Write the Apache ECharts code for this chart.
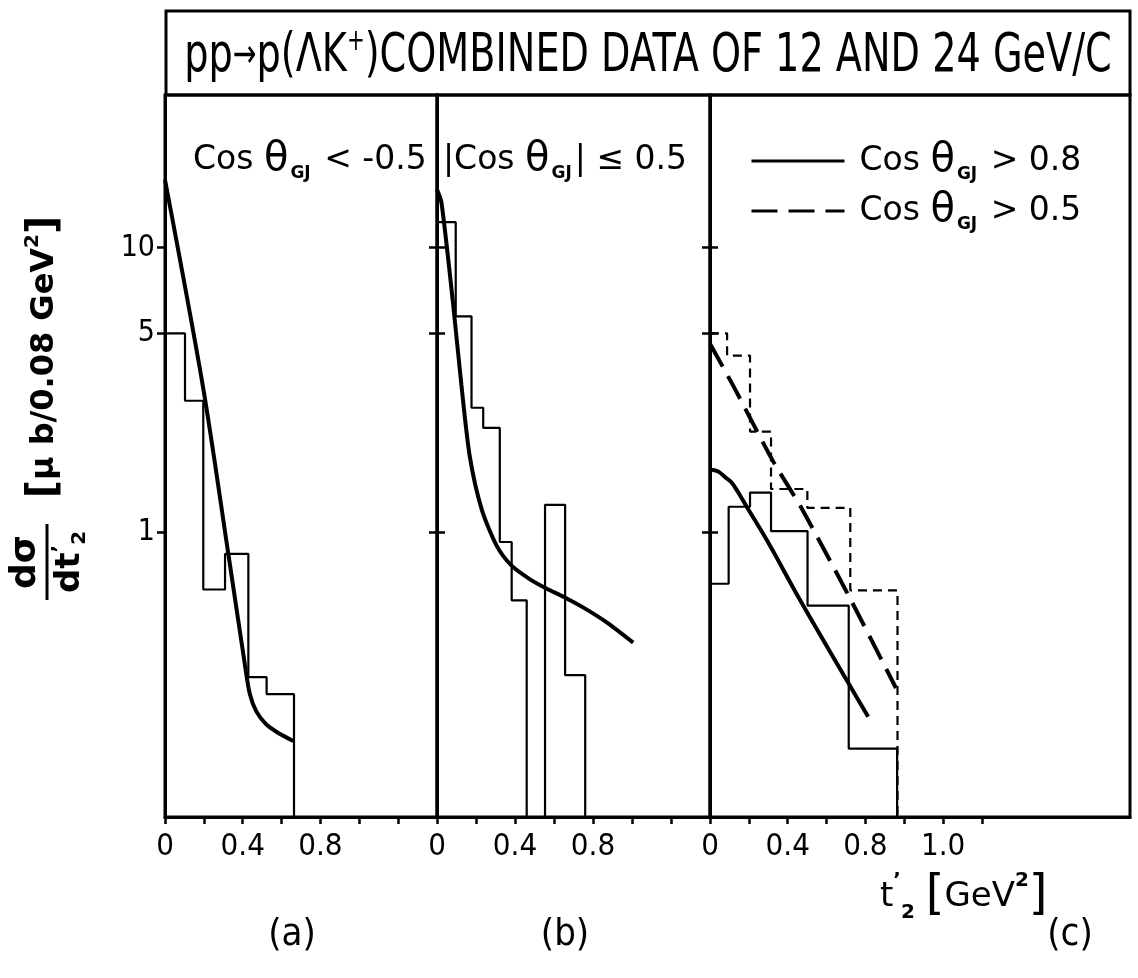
<!DOCTYPE html>
<html><head><meta charset="utf-8">
<script src="https://cdn.jsdelivr.net/npm/echarts@6/dist/echarts.min.js"></script>
<style>html,body{margin:0;padding:0;background:#fff}#c{width:1138px;height:978px}</style>
</head><body><div id="c"></div>
<script>
// ---------------- data ----------------
const yTickValues = [1, 5, 10];
const xTickValues = [0, 0.2, 0.4, 0.6, 0.8, 1.0, 1.2, 1.4];
const xLabelValuesAB = [0, 0.4, 0.8];
const xLabelTextAB = ["0", "0.4", "0.8"];
const xLabelValuesC = [0, 0.4, 0.8, 1.2];
const xLabelTextC = ["0", "0.4", "0.8", "1.0"];
const panelLetters = ["(a)", "(b)", "(c)"];

// panel (a)  cos θGJ < -0.5
const histA_edges = [0, 0.103, 0.197, 0.309, 0.429, 0.523, 0.664];
const histA_values = [5.0, 2.9, 0.63, 0.84, 0.31, 0.27];
const curveA_t = [0, 0.197, 0.326, 0.412, 0.437, 0.47, 0.52, 0.575, 0.66];
const curveA_v = [17.3, 3.2, 0.84, 0.34, 0.27, 0.235, 0.212, 0.199, 0.185];

// panel (b)  |cos θGJ| <= 0.5
const histB_edges = [0, 0.096, 0.177, 0.237, 0.322, 0.383, 0.460, 0.554, 0.657, 0.760];
const histB_values = [12.3, 5.74, 2.74, 2.33, 0.925, 0.577, 0, 1.25, 0.315];
const curveB_t = [0, 0.023, 0.082, 0.125, 0.168, 0.230, 0.307, 0.384, 0.477, 0.563, 0.648, 0.751, 0.872, 1.006];
const curveB_v = [16, 14.4, 6.4, 3.3, 1.85, 1.2, 0.895, 0.762, 0.684, 0.634, 0.594, 0.544, 0.482, 0.41];

// panel (c)  cos θGJ > 0.8 (solid) and > 0.5 (dashed)
const histC08_edges = [0, 0.096, 0.206, 0.314, 0.502, 0.714, 0.963];
const histC08_values = [0.66, 1.23, 1.38, 1.01, 0.553, 0.174];
const histC05_edges = [0, 0.088, 0.206, 0.314, 0.501, 0.722, 0.965];
const histC05_values = [5.0, 4.18, 2.26, 1.42, 1.22, 0.625];
const curveC08_t = [0, 0.04, 0.079, 0.110, 0.140, 0.192, 0.296, 0.470, 0.713, 0.814];
const curveC08_v = [1.66, 1.64, 1.56, 1.50, 1.40, 1.22, 0.93, 0.568, 0.295, 0.225];
const curveC05_t = [0, 0.122, 0.322, 0.470, 0.713, 0.957];
const curveC05_v = [4.6, 3.25, 1.79, 1.22, 0.60, 0.284];

const seriesNameC08 = "Cos θGJ > 0.8";
const seriesNameC05 = "Cos θGJ > 0.5";
const titleText = "pp→p(ΛK+)COMBINED DATA OF 12 AND 24 GeV/C";
// ---------------------------------------------------------------

const yMin = 0.1, yMax = 34.4;
const FONT = "'DejaVu Sans', 'Noto Sans', sans-serif";
const NARROW = "'Liberation Sans Narrow', 'DejaVu Sans Condensed', 'Arial Narrow', sans-serif";
const BLACK = '#000';

function histPoints(edges, values) {
  const f = v => (v > 0 ? v : yMin);
  const pts = values.map((v, i) => [edges[i], f(v)]);
  const last = edges[edges.length - 1];
  pts.push([last, f(values[values.length - 1])]);
  pts.push([last, yMin]);
  return pts;
}
function curvePoints(t, v) { return t.map((x, i) => [x, v[i]]); }

// title horizontal compression so it fits the boxed band like the original lettering
const TITLE_SIZE = 54;
const mctx = document.createElement('canvas').getContext('2d');
mctx.font = TITLE_SIZE + 'px ' + NARROW;
const titleW = mctx.measureText(titleText).width || 1000;
const titleScale = Math.min(1, 950 / titleW);

const grids = [
  {left: 165, top: 95, width: 272, height: 722},
  {left: 437, top: 95, width: 273, height: 722},
  {left: 710, top: 95, width: 420, height: 722}
].map(g => Object.assign(g, {show: true, borderColor: BLACK, borderWidth: 3, backgroundColor: 'transparent'}));

function xAxis(i, max, labelVals, labelTexts) {
  return {
    gridIndex: i, type: 'value', min: 0, max: max,
    axisLine: {show: true, onZero: false, lineStyle: {color: BLACK, width: 3}},
    axisTick: {show: true, customValues: xTickValues, length: 7, lineStyle: {color: BLACK, width: 2.5}},
    axisLabel: {
      show: true, customValues: labelVals, margin: 14,
      fontFamily: NARROW, fontSize: 31, color: BLACK,
      formatter: v => { const k = labelVals.findIndex(u => Math.abs(u - v) < 1e-6); return k >= 0 ? labelTexts[k] : ''; }
    },
    splitLine: {show: false}
  };
}
function yAxis(i, pos, showLabel) {
  return {
    gridIndex: i, type: 'log', logBase: 10, min: yMin, max: yMax, position: pos,
    axisLine: {show: true, lineStyle: {color: BLACK, width: 3}},
    axisTick: {show: true, inside: false, customValues: yTickValues, length: 8, lineStyle: {color: BLACK, width: 2.5}},
    axisLabel: {show: showLabel, customValues: yTickValues, margin: 10, fontFamily: NARROW, fontSize: 30, color: BLACK},
    splitLine: {show: false}, minorTick: {show: false}
  };
}

const xAxes = [
  xAxis(0, 1.4, xLabelValuesAB, xLabelTextAB),
  xAxis(1, 1.4, xLabelValuesAB, xLabelTextAB),
  xAxis(2, 420 / 194.3, xLabelValuesC, xLabelTextC)
];
const yAxes = [
  yAxis(0, 'left', true),
  yAxis(0, 'right', false),
  yAxis(1, 'left', false),
  yAxis(1, 'right', false),
  yAxis(2, 'left', false)
];

const curveStyle = {color: BLACK, width: 4};
const histStyle = {color: BLACK, width: 2.2};

const series = [
  {name: seriesNameC08, type: 'line', xAxisIndex: 2, yAxisIndex: 4, data: curvePoints(curveC08_t, curveC08_v),
   smooth: 0.4, symbol: 'none', lineStyle: curveStyle, itemStyle: {color: BLACK}, z: 4},
  {name: seriesNameC05, type: 'line', xAxisIndex: 2, yAxisIndex: 4, data: curvePoints(curveC05_t, curveC05_v),
   smooth: 0.2, symbol: 'none', lineStyle: {color: BLACK, width: 4, type: [26, 11]}, itemStyle: {color: BLACK}, z: 4},
  {name: 'curveA', type: 'line', xAxisIndex: 0, yAxisIndex: 0, data: curvePoints(curveA_t, curveA_v),
   smooth: 0.3, symbol: 'none', lineStyle: curveStyle, z: 4},
  {name: 'curveB', type: 'line', xAxisIndex: 1, yAxisIndex: 2, data: curvePoints(curveB_t, curveB_v),
   smooth: 0.25, symbol: 'none', lineStyle: curveStyle, z: 4},
  {name: 'histA', type: 'line', step: 'end', xAxisIndex: 0, yAxisIndex: 0, data: histPoints(histA_edges, histA_values),
   symbol: 'none', lineStyle: histStyle, z: 3},
  {name: 'histB', type: 'line', step: 'end', xAxisIndex: 1, yAxisIndex: 2, data: histPoints(histB_edges, histB_values),
   symbol: 'none', lineStyle: histStyle, z: 3},
  {name: seriesNameC08, type: 'line', step: 'end', xAxisIndex: 2, yAxisIndex: 4, data: histPoints(histC08_edges, histC08_values),
   symbol: 'none', lineStyle: histStyle, z: 3},
  {name: seriesNameC05, type: 'line', step: 'end', xAxisIndex: 2, yAxisIndex: 4, data: histPoints(histC05_edges, histC05_values),
   symbol: 'none', lineStyle: {color: BLACK, width: 2.2, type: [9, 6]}, z: 3}
];

const labRich = {
  n: {fontFamily: FONT, fontSize: 33, color: BLACK, lineHeight: 44},
  th: {fontFamily: FONT, fontSize: 40, color: BLACK, lineHeight: 44},
  sub: {fontFamily: FONT, fontSize: 17, fontWeight: 'bold', color: BLACK, lineHeight: 17, verticalAlign: 'bottom', padding: [0, 3, 0, 2]}
};
function cosLabel(pre, post) { return `{n|${pre}Cos }{th|θ}{sub|GJ}{n|${post}}`; }

const option = {
  animation: false,
  backgroundColor: '#fff',
  grid: grids,
  xAxis: xAxes,
  yAxis: yAxes,
  series: series,
  legend: {
    data: [seriesNameC08, seriesNameC05],
    orient: 'vertical', left: 745, top: 136, itemWidth: 93, itemHeight: 20, itemGap: 8,
    selectedMode: false,
    lineStyle: {width: 3},
    itemStyle: {color: 'rgba(0,0,0,0)', borderColor: 'rgba(0,0,0,0)', borderWidth: 0, opacity: 0},
    formatter: name => name === seriesNameC08 ? cosLabel('', ' > 0.8') : cosLabel('', ' > 0.5'),
    textStyle: {color: BLACK, padding: [0, 0, 0, 10], rich: labRich}
  },
  graphic: [
    // title box
    {type: 'rect', shape: {x: 166, y: 11, width: 964, height: 84}, style: {fill: 'none', stroke: BLACK, lineWidth: 3}, z: 10},
    {type: 'text', x: 648, y: 57, scaleX: titleScale, z: 10, style: {
      text: '{t|pp}{ar|→}{t|p(ΛK}{sup|+}{t|)COMBINED DATA OF 12 AND 24 GeV/C}',
      align: 'center', verticalAlign: 'middle',
      rich: {
        t: {fontFamily: NARROW, fontSize: TITLE_SIZE, color: BLACK, lineHeight: 60},
        ar: {fontFamily: NARROW, fontSize: 40, color: BLACK, lineHeight: 60},
        sup: {fontFamily: NARROW, fontSize: 30, color: BLACK, lineHeight: 30, verticalAlign: 'top'}
      }}},
    // panel labels
    {type: 'text', x: 193, y: 160, z: 10, style: {text: cosLabel('', ' < -0.5'), verticalAlign: 'middle', rich: labRich}},
    {type: 'text', x: 443, y: 160, z: 10, style: {text: cosLabel('|', '| ≤ 0.5'), verticalAlign: 'middle', rich: labRich}},
    // panel letters
    {type: 'text', x: 292, y: 935, style: {text: panelLetters[0], align: 'center', verticalAlign: 'middle', fontFamily: NARROW, fontSize: 38, fill: BLACK}},
    {type: 'text', x: 565, y: 935, style: {text: panelLetters[1], align: 'center', verticalAlign: 'middle', fontFamily: NARROW, fontSize: 38, fill: BLACK}},
    {type: 'text', x: 1070, y: 935, style: {text: panelLetters[2], align: 'center', verticalAlign: 'middle', fontFamily: NARROW, fontSize: 38, fill: BLACK}},
    // x axis title
    {type: 'text', x: 880, y: 897, style: {
      text: '{t|t}{sup|’}{sub|2}{t| }{b|[}{t|GeV}{sup|2}{b|]}', verticalAlign: 'middle',
      rich: {
        t: {fontFamily: FONT, fontSize: 34, color: BLACK, lineHeight: 52},
        b: {fontFamily: FONT, fontSize: 48, color: BLACK, lineHeight: 52},
        sup: {fontFamily: FONT, fontSize: 20, fontWeight: 'bold', color: BLACK, lineHeight: 20, verticalAlign: 'top'},
        sub: {fontFamily: FONT, fontSize: 20, fontWeight: 'bold', color: BLACK, lineHeight: 20, verticalAlign: 'bottom'}
      }}},
    // y axis title: bracket part
    {type: 'text', x: 45, y: 357, rotation: Math.PI / 2, style: {
      text: '{b|[}{t|μ b/0.08 GeV}{sup|2}{b|]}', align: 'center', verticalAlign: 'middle',
      rich: {
        t: {fontFamily: FONT, fontSize: 32, fontWeight: 'bold', color: BLACK, lineHeight: 44},
        b: {fontFamily: FONT, fontSize: 40, fontWeight: 'bold', color: BLACK, lineHeight: 44},
        sup: {fontFamily: FONT, fontSize: 20, fontWeight: 'bold', color: BLACK, lineHeight: 20, verticalAlign: 'top'}
      }}},
    // y axis title: fraction dσ / dt'2
    {type: 'group', x: 47, y: 562, rotation: Math.PI / 2, children: [
      {type: 'text', x: 0, y: -3, style: {text: 'dσ', align: 'center', verticalAlign: 'bottom', fontFamily: FONT, fontWeight: 'bold', fontSize: 36, fill: BLACK}},
      {type: 'line', shape: {x1: -38, y1: 0, x2: 38, y2: 0}, style: {stroke: BLACK, lineWidth: 3}},
      {type: 'text', x: 0, y: 3, style: {
        text: '{t|dt}{sup|’}{sub|2}', align: 'center', verticalAlign: 'top',
        rich: {
          t: {fontFamily: FONT, fontWeight: 'bold', fontSize: 34, color: BLACK, lineHeight: 40},
          sup: {fontFamily: FONT, fontWeight: 'bold', fontSize: 20, color: BLACK, lineHeight: 20, verticalAlign: 'top'},
          sub: {fontFamily: FONT, fontWeight: 'bold', fontSize: 20, color: BLACK, lineHeight: 20, verticalAlign: 'bottom'}
        }}}
    ]}
  ]
};

const chart = echarts.init(document.getElementById('c'), null, {renderer: 'canvas'});
chart.setOption(option);
</script>
</body></html>
